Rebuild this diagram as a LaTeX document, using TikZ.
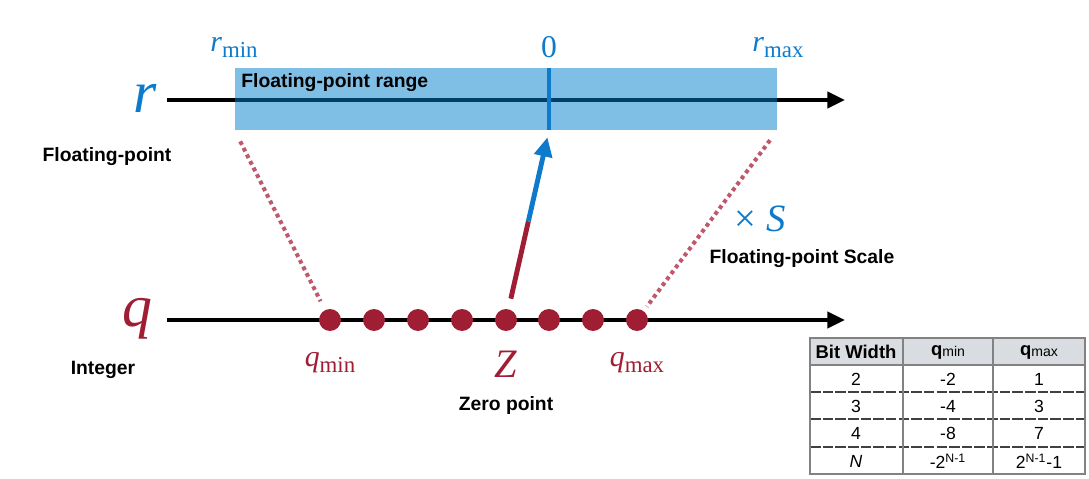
\documentclass[tikz,border=0pt]{standalone}
\usepackage{fontspec}
\setmainfont{Liberation Serif}
\setsansfont{Liberation Sans}
\usepackage{tikz}
\usetikzlibrary{arrows.meta, positioning, calc}
\definecolor{rblue}{RGB}{14,122,204}
\definecolor{rfill}{RGB}{0,128,205}
\definecolor{qred}{RGB}{160,30,52}
\definecolor{qpink}{RGB}{190,88,108}
\definecolor{hdrgray}{RGB}{217,221,226}
\definecolor{rulegray}{RGB}{130,130,130}
\tikzstyle{axis} = [line width=2.8pt, -{Triangle[length=10pt, width=9pt]}]
\tikzstyle{rngbox} = [rectangle, fill=rfill, fill opacity=0.5, inner sep=0pt, minimum width=10.84cm, minimum height=1.24cm]
\tikzstyle{qdot} = [circle, fill=qred, inner sep=0pt, minimum size=12.5pt]
\tikzstyle{scalemap} = [qpink, line width=2.3pt, dash pattern=on 2.2pt off 2pt]
\tikzstyle{zline} = [line width=2.8pt]
\tikzstyle{lbl} = [font=\sffamily\bfseries\fontsize{11}{13}\selectfont]
\tikzstyle{tabrule} = [rulegray, line width=0.6pt]
\tikzstyle{tabdash} = [black!75, line width=0.6pt, dash pattern=on 6pt off 1.2pt]
\tikzstyle{cellhead} = [font=\sffamily\bfseries\fontsize{10.5}{12}\selectfont]
\tikzstyle{cell} = [font=\sffamily\fontsize{10}{12}\selectfont]

\begin{document}
\begin{tikzpicture}[x=0.02cm, y=-0.02cm]
\useasboundingbox (0,0) rectangle (1089,479);

% Axes
\coordinate (r0) at (167,100);
\coordinate (r1) at (845,100);
\coordinate (q0) at (167,320);
\coordinate (q1) at (845,320);
\draw [axis] (r0) -- (r1);
\draw [axis] (q0) -- (q1);

% Floating-point range
\node [rngbox] (rng) at (506,99) {};
\node [lbl, anchor=west, inner sep=0pt] (rngtxt) at (241,83) {Floating-point range};

% Integer grid
\node [qdot] (d1) at (330,320) {};
\node [qdot] (d2) at (374,320) {};
\node [qdot] (d3) at (418,320) {};
\node [qdot] (d4) at (462,320) {};
\node [qdot] (d5) at (506,320) {};
\node [qdot] (d6) at (549,320) {};
\node [qdot] (d7) at (593,320) {};
\node [qdot] (d8) at (637,320) {};

% Zero tick
\draw [rblue, line width=2.8pt] (rng.north -| d6) -- (rng.south -| d6);

% Mapping
\draw [scalemap, shorten <=7pt, shorten >=5.5pt] (rng.south west) -- (d1);
\draw [scalemap, shorten <=7pt, shorten >=3pt] (rng.south east) -- (d8);
\coordinate (zmid) at ($(d5)!0.52!(rng.south -| d6)$);
\draw [zline, qred, shorten <=6pt] (d5) -- (zmid);
\draw [zline, rblue, -{Triangle[length=11pt, width=10pt]}, shorten >=4pt] (zmid) -- (rng.south -| d6);

% Labels
\node [rblue, anchor=base, inner sep=0pt] (rbig) at (145,113) {\fontsize{34}{36}\selectfont\textit{r}};
\node [lbl] (fplbl) at (107,157) {Floating-point};
\node [rblue, anchor=base, inner sep=0pt] (rmin) at (234,52) {\fontsize{17}{18}\selectfont\textit{r}\raisebox{-3pt}{\fontsize{13}{14}\selectfont min}};
\node [rblue, anchor=base, inner sep=0pt] (zero) at (549,58) {\fontsize{18}{20}\selectfont 0};
\node [rblue, anchor=base, inner sep=0pt] (rmax) at (778,52) {\fontsize{17}{18}\selectfont\textit{r}\raisebox{-3pt}{\fontsize{13}{14}\selectfont max}};
\node [rblue, anchor=base, inner sep=0pt] (scl) at (760,232) {\fontsize{22}{24}\selectfont × \textit{S}};
\node [lbl] (scllbl) at (802,259) {Floating-point Scale};
\node [qred, anchor=base, inner sep=0pt] (qbig) at (137,327) {\fontsize{34}{36}\selectfont\textit{q}};
\node [lbl] (intlbl) at (103,370) {Integer};
\node [qred, anchor=base, inner sep=0pt] (qmin) at (330,367) {\fontsize{17}{18}\selectfont\textit{q}\raisebox{-3pt}{\fontsize{13}{14}\selectfont min}};
\node [qred, anchor=base, inner sep=0pt] (zlbl) at (506,378) {\fontsize{23}{25}\selectfont\textit{Z}};
\node [qred, anchor=base, inner sep=0pt] (qmax) at (637,367) {\fontsize{17}{18}\selectfont\textit{q}\raisebox{-3pt}{\fontsize{13}{14}\selectfont max}};
\node [lbl] (zplbl) at (506,406) {Zero point};

% Table
\fill [hdrgray] (810,338) rectangle (1085,365);
\draw [tabrule] (810,365) -- (1085,365);
\draw [tabdash] (810,392) -- (1085,392);
\draw [tabdash] (810,419) -- (1085,419);
\draw [tabdash] (810,447) -- (1085,447);
\draw [tabrule] (903,338) -- (903,474);
\draw [tabrule] (993,338) -- (993,474);
\draw [tabrule] (810,338) rectangle (1085,474);

\node [cellhead] (hbw) at (856,352) {Bit Width};
\node [cellhead] (hmin) at (948,352) {q\raisebox{-1pt}{\mdseries\fontsize{8}{9}\selectfont min}};
\node [cellhead] (hmax) at (1039,352) {q\raisebox{-1pt}{\mdseries\fontsize{8}{9}\selectfont max}};
\node [cell] (w2) at (856,379) {2};
\node [cell] (min2) at (948,379) {-2};
\node [cell] (max2) at (1039,379) {1};
\node [cell] (w3) at (856,406) {3};
\node [cell] (min3) at (948,406) {-4};
\node [cell] (max3) at (1039,406) {3};
\node [cell] (w4) at (856,433) {4};
\node [cell] (min4) at (948,433) {-8};
\node [cell] (max4) at (1039,433) {7};
\node [cell] (wn) at (856,461) {\itshape N};
\node [cell] (minn) at (948,461) {-2\textsuperscript{N-1}};
\node [cell] (maxn) at (1039,461) {2\textsuperscript{N-1}-1};

\end{tikzpicture}
\end{document}
